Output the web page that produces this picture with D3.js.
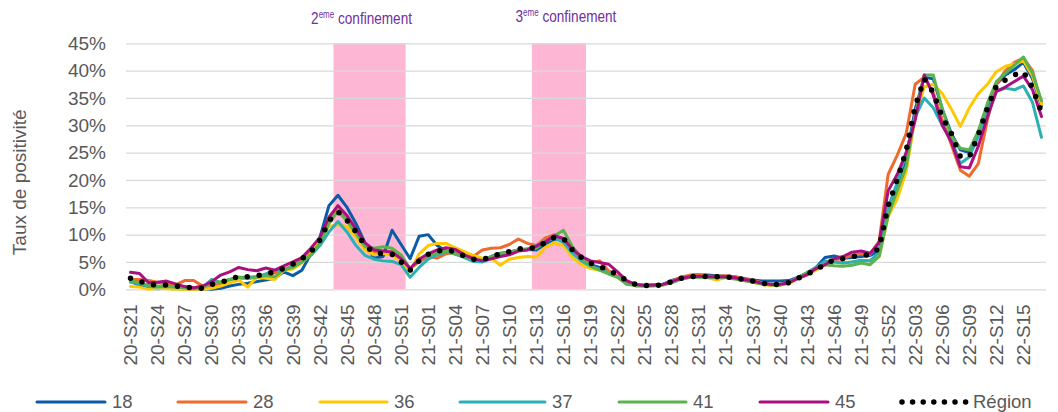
<!DOCTYPE html>
<html>
<head>
<meta charset="utf-8">
<script src="https://cdn.jsdelivr.net/npm/d3@7"></script>
<style>
  body { margin: 0; background: #fff; }
  svg { display: block; font-family: "Liberation Sans", Arial, sans-serif; }
</style>
</head>
<body>
<div id="chart"></div>
<script>
// weeks 2020-S21 .. 2022-S17
const weeks = [];
for (let w = 21; w <= 53; w++) weeks.push('20-S' + String(w).padStart(2, '0'));
for (let w = 1; w <= 52; w++) weeks.push('21-S' + String(w).padStart(2, '0'));
for (let w = 1; w <= 17; w++) weeks.push('22-S' + String(w).padStart(2, '0'));

const tickLabels = weeks.filter((d, i) => i % 3 === 0);
const yTicks = [0, 5, 10, 15, 20, 25, 30, 35, 40, 45];

const confinements = [
  {num: '2', from: '20-S44', to: '20-S51'},
  {num: '3', from: '21-S13', to: '21-S18'}
];

// taux de positivite (%) par departement
const d18 = [
  1.5, 0.7, 0.2, 0.1, 0.2, 0.1, 0.1, 0.0, 0.1, 0.0,
  0.2, 0.6, 0.9, 1.1, 1.4, 1.7, 2.0, 3.2, 2.5, 3.5,
  6.5, 9.5, 15.3, 17.2, 15.0, 12.0, 8.5, 5.7, 6.0, 10.8,
  8.2, 5.6, 9.7, 10.0, 8.0, 7.0, 6.6, 6.0, 5.3, 5.2,
  6.0, 6.6, 6.8, 7.2, 7.3, 7.2, 8.3, 9.2, 9.0, 7.0,
  5.5, 4.5, 4.0, 3.2, 2.3, 1.3, 0.8, 0.7, 0.8, 0.9,
  1.6, 2.1, 2.4, 2.6, 2.6, 2.5, 2.4, 2.3, 2.0, 1.7,
  1.5, 1.5, 1.5, 1.6, 2.2, 3.0, 4.0, 5.8, 6.1, 5.7,
  5.8, 6.0, 6.2, 7.0, 14.0, 18.5, 24.0, 33.0, 38.8, 38.5,
  33.0, 28.5, 25.5, 25.0, 28.5, 33.5, 37.5, 39.2, 40.2, 41.5,
  38.5, 33.5
];
const d28 = [
  1.8, 1.8, 1.6, 1.3, 1.0, 0.8, 1.6, 1.6, 0.6, 0.4,
  1.0, 1.6, 2.0, 2.0, 2.3, 2.6, 3.0, 3.6, 4.4, 5.4,
  6.8, 9.3, 13.0, 14.5, 13.0, 10.5, 8.0, 6.8, 6.6, 6.9,
  5.5, 3.8, 5.0, 6.0, 5.7, 6.5, 6.8, 6.2, 6.0, 7.2,
  7.5, 7.6, 8.2, 9.2, 8.4, 8.0, 9.4, 10.0, 8.6, 6.6,
  5.6, 4.8, 5.2, 3.4, 2.4, 1.4, 0.6, 0.6, 0.6, 0.8,
  1.5, 2.2, 2.6, 2.7, 2.4, 2.4, 2.5, 2.3, 1.9, 1.6,
  1.2, 0.9, 0.9, 1.2, 2.0, 2.6, 3.6, 4.5, 5.3, 5.7,
  6.2, 6.5, 6.4, 8.8, 21.0, 24.5, 28.5, 37.5, 38.8, 36.0,
  31.0, 26.5, 21.8, 20.7, 23.0, 31.0, 37.5, 40.0, 41.5, 42.3,
  40.0, 34.0
];
const d36 = [
  0.5, 0.4, 0.0, 0.2, 0.1, 0.0, 0.0, 0.0, 0.0, 0.2,
  0.6, 1.2, 1.7, 0.4, 2.2, 2.0, 1.8, 3.5, 3.7, 4.8,
  6.5, 9.0, 11.5, 11.8, 11.5, 9.5, 7.2, 6.3, 6.6, 6.2,
  5.2, 3.2, 6.5, 8.0, 8.4, 8.4, 7.6, 6.9, 6.2, 5.7,
  5.7, 4.4, 5.5, 5.8, 6.0, 5.9, 7.7, 8.5, 8.0, 5.9,
  4.5, 3.8, 3.5, 3.0, 2.2, 1.2, 0.8, 0.6, 0.7, 0.8,
  1.3, 2.0, 2.2, 2.3, 2.1, 1.7, 2.2, 2.0, 1.6, 1.3,
  0.9, 0.7, 0.8, 1.0, 2.0, 2.8, 3.5, 4.4, 5.0, 4.8,
  5.0, 5.2, 5.3, 6.0, 13.3, 16.5, 21.5, 31.5, 37.0, 37.5,
  35.8, 33.0, 29.8, 33.2, 35.8, 37.5, 39.8, 40.8, 41.2, 41.8,
  39.0, 33.8
];
const d37 = [
  1.3, 1.0, 0.5, 0.4, 0.5, 0.4, 0.3, 0.2, 0.3, 1.8,
  1.2, 1.8, 2.2, 2.2, 2.3, 2.8, 3.5, 3.5, 4.2, 5.0,
  6.2, 8.0, 10.5, 12.4, 10.5, 8.0, 6.2, 5.5, 5.2, 5.1,
  4.5, 2.2, 4.0, 5.5, 6.3, 6.8, 6.5, 5.8, 5.1, 5.0,
  5.6, 6.3, 6.8, 7.2, 7.4, 8.0, 8.8, 9.4, 8.6, 6.6,
  5.2, 4.2, 3.7, 3.0, 2.2, 1.3, 0.9, 0.8, 0.8, 0.9,
  1.4, 1.9, 2.2, 2.3, 2.2, 2.2, 2.2, 2.0, 1.7, 1.4,
  1.0, 0.9, 0.9, 1.3, 2.1, 3.0, 4.0, 5.2, 5.0, 4.8,
  5.0, 5.3, 5.2, 6.8, 15.0, 19.5, 25.0, 31.5, 35.0, 33.2,
  30.0, 27.5, 23.0, 24.2, 28.0, 32.5, 36.2, 36.8, 36.5, 37.2,
  34.2, 27.8
];
const d41 = [
  1.5, 1.2, 0.7, 0.6, 0.6, 0.4, 0.3, 0.2, 0.3, 1.1,
  1.4, 1.8, 2.2, 2.0, 2.2, 2.5, 2.3, 3.6, 4.0, 5.0,
  6.3, 8.5, 12.0, 14.3, 12.5, 10.2, 7.8, 7.5, 7.8, 7.5,
  6.3, 3.8, 5.5, 6.2, 6.6, 7.0, 6.4, 6.0, 5.5, 5.3,
  6.0, 6.5, 6.8, 7.2, 7.3, 7.5, 8.8, 9.8, 10.8, 7.8,
  5.8, 4.3, 3.5, 2.8, 2.2, 0.9, 0.7, 0.6, 0.7, 0.8,
  1.2, 1.8, 2.2, 2.3, 2.2, 2.2, 2.1, 1.9, 1.6, 1.3,
  1.0, 0.8, 0.8, 1.2, 2.2, 3.0, 3.8, 4.5, 4.3, 4.2,
  4.4, 4.8, 4.5, 6.0, 13.5, 18.0, 22.5, 32.0, 39.2, 39.2,
  33.0, 28.0, 25.8, 25.5, 29.0, 34.0, 38.0, 39.5, 41.0, 42.5,
  39.5, 34.5
];
const d45 = [
  3.1, 2.9, 1.2, 1.3, 1.5, 1.0, 0.5, 0.3, 0.6, 1.4,
  2.6, 3.2, 4.0, 3.6, 3.4, 3.9, 3.5, 4.3, 5.0, 5.8,
  7.5, 9.5, 13.2, 15.3, 13.5, 11.0, 8.5, 7.2, 7.0, 6.8,
  5.6, 3.8, 5.5, 6.5, 7.2, 7.6, 7.3, 6.3, 5.6, 5.2,
  5.6, 6.0, 6.3, 7.0, 7.2, 7.9, 8.7, 9.8, 9.3, 7.3,
  6.0, 5.2, 4.9, 4.6, 3.2, 1.6, 0.9, 0.7, 0.8, 0.9,
  1.4, 2.0, 2.3, 2.4, 2.3, 2.3, 2.3, 2.1, 1.8, 1.5,
  1.1, 0.9, 0.9, 1.2, 2.0, 2.7, 3.8, 4.5, 5.6, 6.0,
  6.8, 7.0, 6.6, 8.5, 18.0, 21.0, 25.0, 31.0, 39.2, 35.5,
  30.0, 27.0, 22.4, 22.2, 26.2, 31.5, 36.2, 37.0, 38.0, 39.0,
  36.5, 31.6
];
const region = [
  2.0, 1.5, 0.9, 0.8, 0.8, 0.6, 0.4, 0.3, 0.2, 0.9,
  1.3, 1.7, 2.4, 2.3, 2.5, 2.7, 3.3, 3.8, 4.6, 5.6,
  6.8, 9.0, 12.5, 14.2, 12.6, 10.5, 8.0, 6.7, 6.5, 6.4,
  5.0, 3.5, 5.2, 6.4, 7.0, 7.2, 6.9, 6.1, 5.5, 5.4,
  6.0, 6.5, 6.9, 7.4, 7.5, 7.6, 8.6, 9.5, 9.3, 7.2,
  5.8, 4.8, 4.2, 3.5, 2.6, 1.6, 0.9, 0.7, 0.7, 0.8,
  1.4, 2.0, 2.3, 2.4, 2.3, 2.3, 2.3, 2.1, 1.8, 1.5,
  1.1, 0.9, 0.9, 1.2, 2.0, 2.7, 3.6, 4.6, 5.4, 5.6,
  6.0, 6.2, 6.3, 7.5, 15.3, 20.0, 25.4, 33.5, 38.5, 36.0,
  31.5, 28.5, 24.3, 24.2, 28.3, 33.1, 37.2, 38.3, 39.2, 39.8,
  36.9, 32.4
];

const series = [
  {name: '18', values: d18, color: '#0B5BA5'},
  {name: '28', values: d28, color: '#EE6A2F'},
  {name: '36', values: d36, color: '#FFC800'},
  {name: '37', values: d37, color: '#2BB0B3'},
  {name: '41', values: d41, color: '#5BB24E'},
  {name: '45', values: d45, color: '#AA0F80'},
  {name: 'Région', values: region, color: '#000000', dotted: true}
];

const width = 1058;
const height = 412;
const margin = {top: 43.3, right: 12, bottom: 122.7, left: 126};
const plotW = width - margin.left - margin.right;
const plotH = height - margin.top - margin.bottom;
const textColor = '#595959';

const svg = d3.select('#chart').append('svg')
  .attr('width', width)
  .attr('height', height);

const x = d3.scaleBand()
  .domain(weeks)
  .range([margin.left, margin.left + plotW]);

const y = d3.scaleLinear()
  .domain([0, 45])
  .range([margin.top + plotH, margin.top]);

const cx = d => x(d) + x.bandwidth() / 2;

// confinement bands
svg.append('g').selectAll('rect')
  .data(confinements)
  .enter()
  .append('rect')
  .attr('x', d => x(d.from))
  .attr('width', d => x(d.to) + x.bandwidth() - x(d.from))
  .attr('y', y(45))
  .attr('height', y(0) - y(45))
  .style('fill', '#FDB7D5');

// gridlines
const grid = svg.append('g')
  .attr('transform', `translate(${margin.left},0)`)
  .call(d3.axisLeft(y).tickValues(yTicks).tickSize(-plotW).tickFormat(''));
grid.select('.domain').remove();
grid.selectAll('line').style('stroke', '#D9D9D9').style('stroke-width', 1.3);

// y labels
const yAxis = svg.append('g')
  .attr('transform', `translate(${margin.left},0)`)
  .call(d3.axisLeft(y).tickValues(yTicks).tickSize(0).tickPadding(20).tickFormat(d => d + '%'));
yAxis.select('.domain').remove();
yAxis.selectAll('text')
  .style('font-size', '19px')
  .style('fill', textColor)
  .style('font-family', '"Liberation Sans", Arial, sans-serif');

// x labels
const xAxis = svg.append('g')
  .attr('transform', `translate(0,${y(0)})`)
  .call(d3.axisBottom(x).tickValues(tickLabels).tickSize(0));
xAxis.select('.domain').remove();
xAxis.selectAll('text')
  .attr('transform', 'rotate(-90)')
  .attr('x', -15)
  .attr('y', 0)
  .attr('dy', '0.35em')
  .attr('text-anchor', 'end')
  .style('font-size', '19px')
  .style('fill', textColor)
  .style('font-family', '"Liberation Sans", Arial, sans-serif');

// axis title
svg.append('text')
  .attr('transform', `translate(19,${margin.top + plotH / 2 + 16}) rotate(-90)`)
  .attr('text-anchor', 'middle')
  .attr('dy', '0.35em')
  .style('font-size', '19px')
  .style('fill', textColor)
  .text('Taux de positivité');

// confinement labels (narrow font look: horizontal squeeze)
const conf = svg.append('g').selectAll('text')
  .data(confinements)
  .enter()
  .append('text')
  .attr('transform', (d, i) => {
    const mid = (x(d.from) + x(d.to) + x.bandwidth()) / 2 + (i === 0 ? -8 : 7);
    return `translate(${mid},${i === 0 ? 24 : 22}) scale(0.8,1)`;
  })
  .attr('text-anchor', 'middle')
  .style('font-size', '17px')
  .style('fill', '#7030A0');
conf.append('tspan').text(d => d.num);
conf.append('tspan').attr('dy', -6).style('font-size', '10px').text('eme');
conf.append('tspan').attr('dy', 6).text(' confinement');

// lines
const line = d3.line()
  .x((d, i) => cx(weeks[i]))
  .y(d => y(d));

svg.append('g').selectAll('path')
  .data(series)
  .enter()
  .append('path')
  .attr('d', d => line(d.values))
  .style('fill', 'none')
  .style('stroke', d => d.color)
  .style('stroke-width', d => d.dotted ? 5.5 : 3)
  .style('stroke-linejoin', 'round')
  .style('stroke-linecap', 'round')
  .style('stroke-dasharray', d => d.dotted ? '0 12' : null);

// legend
const legendX = [37, 178, 320, 460, 619, 760, 902];
const legendLen = [68, 68, 67, 85, 67, 68, 64];
const legend = svg.append('g').selectAll('g')
  .data(series)
  .enter()
  .append('g')
  .attr('transform', (d, i) => `translate(${legendX[i]},402)`);

legend.append('line')
  .attr('x1', 0)
  .attr('x2', (d, i) => legendLen[i])
  .style('stroke', d => d.color)
  .style('stroke-width', d => d.dotted ? 5.5 : 3)
  .style('stroke-linecap', 'round')
  .style('stroke-dasharray', d => d.dotted ? '0 10.6' : null);

legend.append('text')
  .attr('x', (d, i) => legendLen[i] + 7)
  .attr('dy', '0.34em')
  .style('font-size', '18.5px')
  .style('fill', textColor)
  .text(d => d.name);
</script>
</body>
</html>
